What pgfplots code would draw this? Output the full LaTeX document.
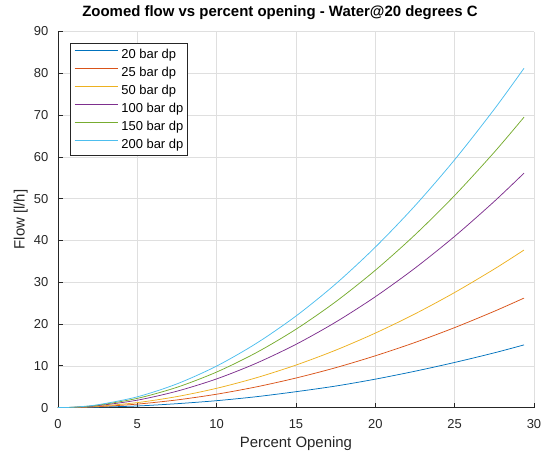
\documentclass[border=0pt]{standalone}
\usepackage{fontspec}
\setmainfont{Liberation Sans}
\usepackage{pgfplots}
\pgfplotsset{compat=1.18}
\usetikzlibrary{calc}

\definecolor{mblue}{RGB}{0,114,189}
\definecolor{morange}{RGB}{217,83,25}
\definecolor{myellow}{RGB}{237,177,32}
\definecolor{mpurple}{RGB}{126,47,142}
\definecolor{mgreen}{RGB}{119,172,48}
\definecolor{mcyan}{RGB}{77,190,238}
\definecolor{axgray}{RGB}{38,38,38}
\definecolor{gridgray}{RGB}{223,223,223}

\begin{document}
\begin{tikzpicture}
\begin{axis}[
    name=main,
    width=476bp, height=376bp, scale only axis,
    xmin=0, xmax=30, ymin=0, ymax=90,
    xtick={0,5,...,30}, ytick={0,10,...,90},
    axis lines=left,
    x axis line style={-}, y axis line style={-},
    axis line style={draw=axgray, line width=0.6bp},
    tick align=inside, major tick length=5bp,
    tick style={axgray, line width=0.6bp},
    grid=major, grid style={gridgray, line width=0.5bp},
    /pgf/number format/assume math mode=true,
    tick label style={font=\fontsize{13}{15}\selectfont, text=axgray, inner sep=0pt},
    xticklabel style={yshift=-12bp},
    yticklabel style={xshift=-9.5bp},
    xlabel={Percent Opening},
    ylabel={Flow [l/h]},
    label style={font=\fontsize{15}{18}\selectfont, text=axgray, inner sep=0pt},
    xlabel style={at={(axis description cs:0.5,0)}, anchor=north, yshift=-29bp},
    ylabel style={at={(axis description cs:0,0.5)}, anchor=south, yshift=30bp},
    title={Zoomed flow vs percent opening - Water@20 degrees C},
    title style={font=\fontsize{15}{18}\selectfont\bfseries, inner sep=0pt,
        at={(axis description cs:0.5,1)}, anchor=base, yshift=9.5bp, xshift=-16bp},
    legend cell align=left,
    legend image code/.code={\draw[#1, line width=0.9bp] (0bp,3.5bp) -- (43bp,3.5bp);},
    legend style={at={(axis description cs:0,1)}, anchor=north west,
        xshift=12bp, yshift=-11bp,
        draw=axgray, line width=0.5bp, fill=white,
        font=\fontsize{13}{15}\selectfont,
        inner xsep=4bp, inner ysep=4.5bp,
        row sep=5.6bp, column sep=3.3bp,
        nodes={inner sep=0pt, text height=11bp, text depth=1.5bp}},
    every axis plot/.append style={line width=0.75bp, smooth},
]

% 20 bar dp
\addplot[draw=mblue] coordinates {
    (0,0) (1,0.01) (2.5,0.1) (5,0.38) (7.5,0.93) (10,1.65) (12.5,2.6) (15,3.8)
    (17.5,5.15) (20,6.8) (22.5,8.7) (25,10.8) (27.5,13.1) (29.37,15.0)
};
% 25 bar dp
\addplot[draw=morange] coordinates {
    (0,0) (1,0.03) (2.5,0.21) (5,0.83) (7.5,1.83) (10,3.2) (12.5,4.95) (15,7.07)
    (17.5,9.54) (20,12.39) (22.5,15.58) (25,19.14) (27.5,23.05) (29.37,26.2)
};
% 50 bar dp
\addplot[draw=myellow] coordinates {
    (0,0) (1,0.05) (2.5,0.31) (5,1.19) (7.5,2.63) (10,4.61) (12.5,7.13) (15,10.17)
    (17.5,13.73) (20,17.82) (22.5,22.42) (25,27.54) (27.5,33.16) (29.37,37.7)
};
% 100 bar dp
\addplot[draw=mpurple] coordinates {
    (0,0) (1,0.07) (2.5,0.46) (5,1.77) (7.5,3.92) (10,6.86) (12.5,10.61) (15,15.13)
    (17.5,20.44) (20,26.52) (22.5,33.37) (25,40.98) (27.5,49.35) (29.37,56.1)
};
% 150 bar dp
\addplot[draw=mgreen] coordinates {
    (0,0) (1,0.09) (2.5,0.57) (5,2.2) (7.5,4.85) (10,8.5) (12.5,13.14) (15,18.74)
    (17.5,25.32) (20,32.86) (22.5,41.34) (25,50.76) (27.5,61.13) (29.37,69.5)
};
% 200 bar dp
\addplot[draw=mcyan] coordinates {
    (0,0) (1,0.1) (2.5,0.67) (5,2.57) (7.5,5.67) (10,9.93) (12.5,15.36) (15,21.9)
    (17.5,29.58) (20,38.39) (22.5,48.3) (25,59.31) (27.5,71.42) (29.37,81.2)
};

\legend{20 bar dp, 25 bar dp, 50 bar dp, 100 bar dp, 150 bar dp, 200 bar dp}
\end{axis}
\path ($(main.south west)+(-57.9bp,-47.3bp)$) rectangle ($(main.north east)+(19bp,31.5bp)$);
\end{tikzpicture}
\end{document}
